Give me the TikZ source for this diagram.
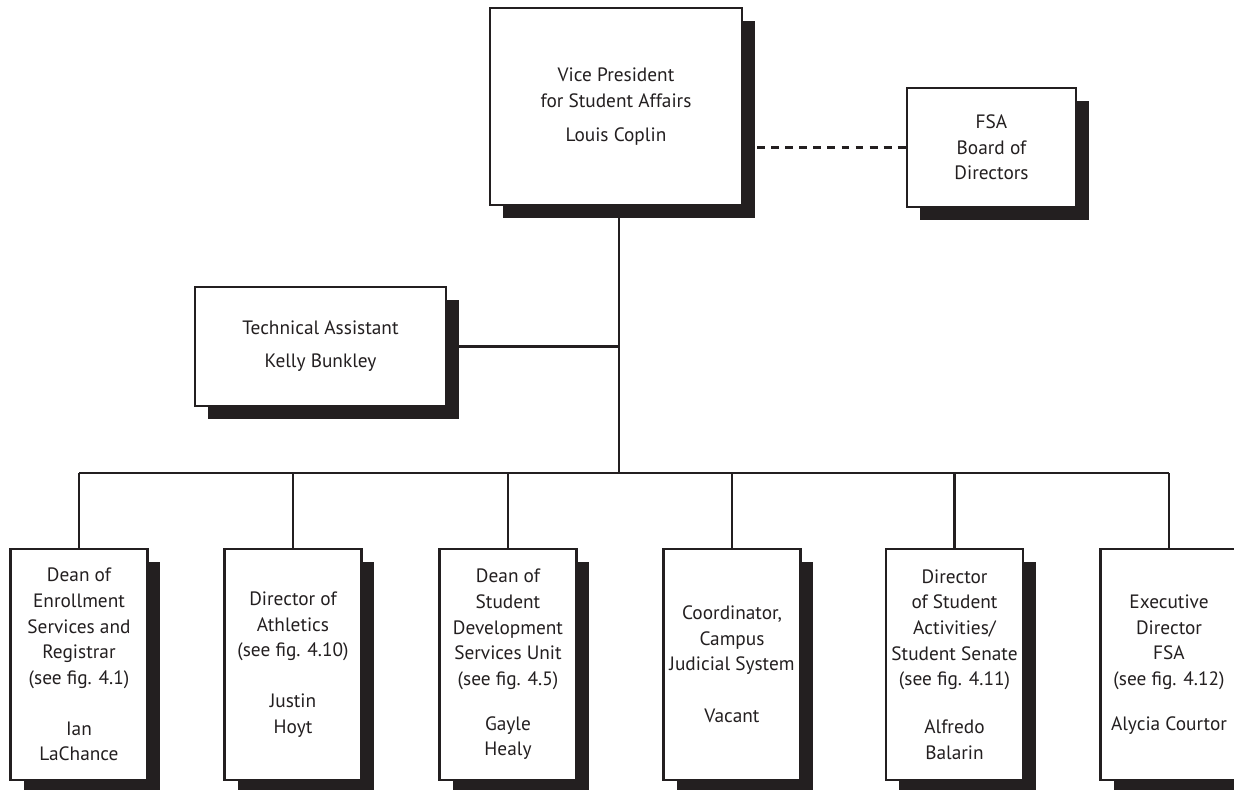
\documentclass[tikz,border=0pt]{standalone}
\usepackage{fontspec}
\setmainfont{PT Sans}
\usetikzlibrary{shadows,backgrounds}

\definecolor{ink}{RGB}{35,31,32}

\tikzstyle{orgblock} = [rectangle, draw=ink, line width=1.3pt, fill=white, text=ink, align=center, inner sep=0pt, font=\fontsize{11}{14.6}\selectfont, drop shadow={shadow xshift=0.26cm, shadow yshift=-0.26cm, fill=ink, opacity=1}]
\tikzstyle{headblock} = [orgblock, minimum width=5.04cm, minimum height=3.94cm]
\tikzstyle{sideblock} = [orgblock, minimum width=5.02cm, minimum height=2.38cm]
\tikzstyle{boardblock} = [orgblock, minimum width=3.38cm, minimum height=2.38cm]
\tikzstyle{unitblock} = [orgblock, minimum width=2.74cm, minimum height=4.62cm]
\tikzstyle{link} = [-, draw=ink, line width=1.4pt]
\tikzstyle{dashlink} = [link, line width=1.6pt, dash pattern=on 4.5pt off 3.5pt]

\begin{document}
\begin{tikzpicture}[x=0.02cm, y=-0.02cm]
    \useasboundingbox (0,0) rectangle (1234,789);
    \clip (0,0) rectangle (1234,789);

    \node (vp) [headblock] at (616,106.5) {Vice President\\for Student Affairs\\[4.5pt]Louis Coplin};
    \node (fsab) [boardblock] at (991.5,147.5) {FSA\\Board of\\Directors};
    \node (tech) [sideblock] at (320.5,346.5) {Technical Assistant\\[4.2pt]Kelly Bunkley};

    \node (enroll) [unitblock] at (79,664.5) {Dean of\\Enrollment\\Services and\\Registrar\\(see fig. 4.1)\\[14.3pt]Ian\\LaChance};
    \node (athl) [unitblock] at (293,664.5) {Director of\\Athletics\\(see fig. 4.10)\\[14.3pt]Justin\\Hoyt};
    \node (devel) [unitblock] at (508,664.5) {Dean of\\Student\\Development\\Services Unit\\(see fig. 4.5)\\[11pt]Gayle\\Healy};
    \node (judic) [unitblock] at (732,664.5) {Coordinator,\\Campus\\Judicial System\\[15pt]Vacant};
    \node (activ) [unitblock] at (954.5,664.5) {Director\\of Student\\Activities/\\Student Senate\\(see fig. 4.11)\\[12.6pt]Alfredo\\Balarin};
    \node (fsadir) [unitblock] at (1169,664.5) {Executive\\Director\\FSA\\(see fig. 4.12)\\[11pt]Alycia Courtor};

    \coordinate (bar) at (619,473);

    \begin{pgfonlayer}{background}
        \draw [link] (vp.south -| bar) -- (bar);
        \draw [link] (tech.east) -- (tech.east -| bar);
        \draw [dashlink] (fsab.west -| vp.east) -- (fsab.west);
        \draw [link] (enroll.north |- bar) -- (fsadir.north |- bar);
        \foreach \unit in {enroll, athl, devel, judic, activ, fsadir}
            \draw [link] (\unit.north |- bar) -- (\unit.north);
    \end{pgfonlayer}
\end{tikzpicture}
\end{document}
